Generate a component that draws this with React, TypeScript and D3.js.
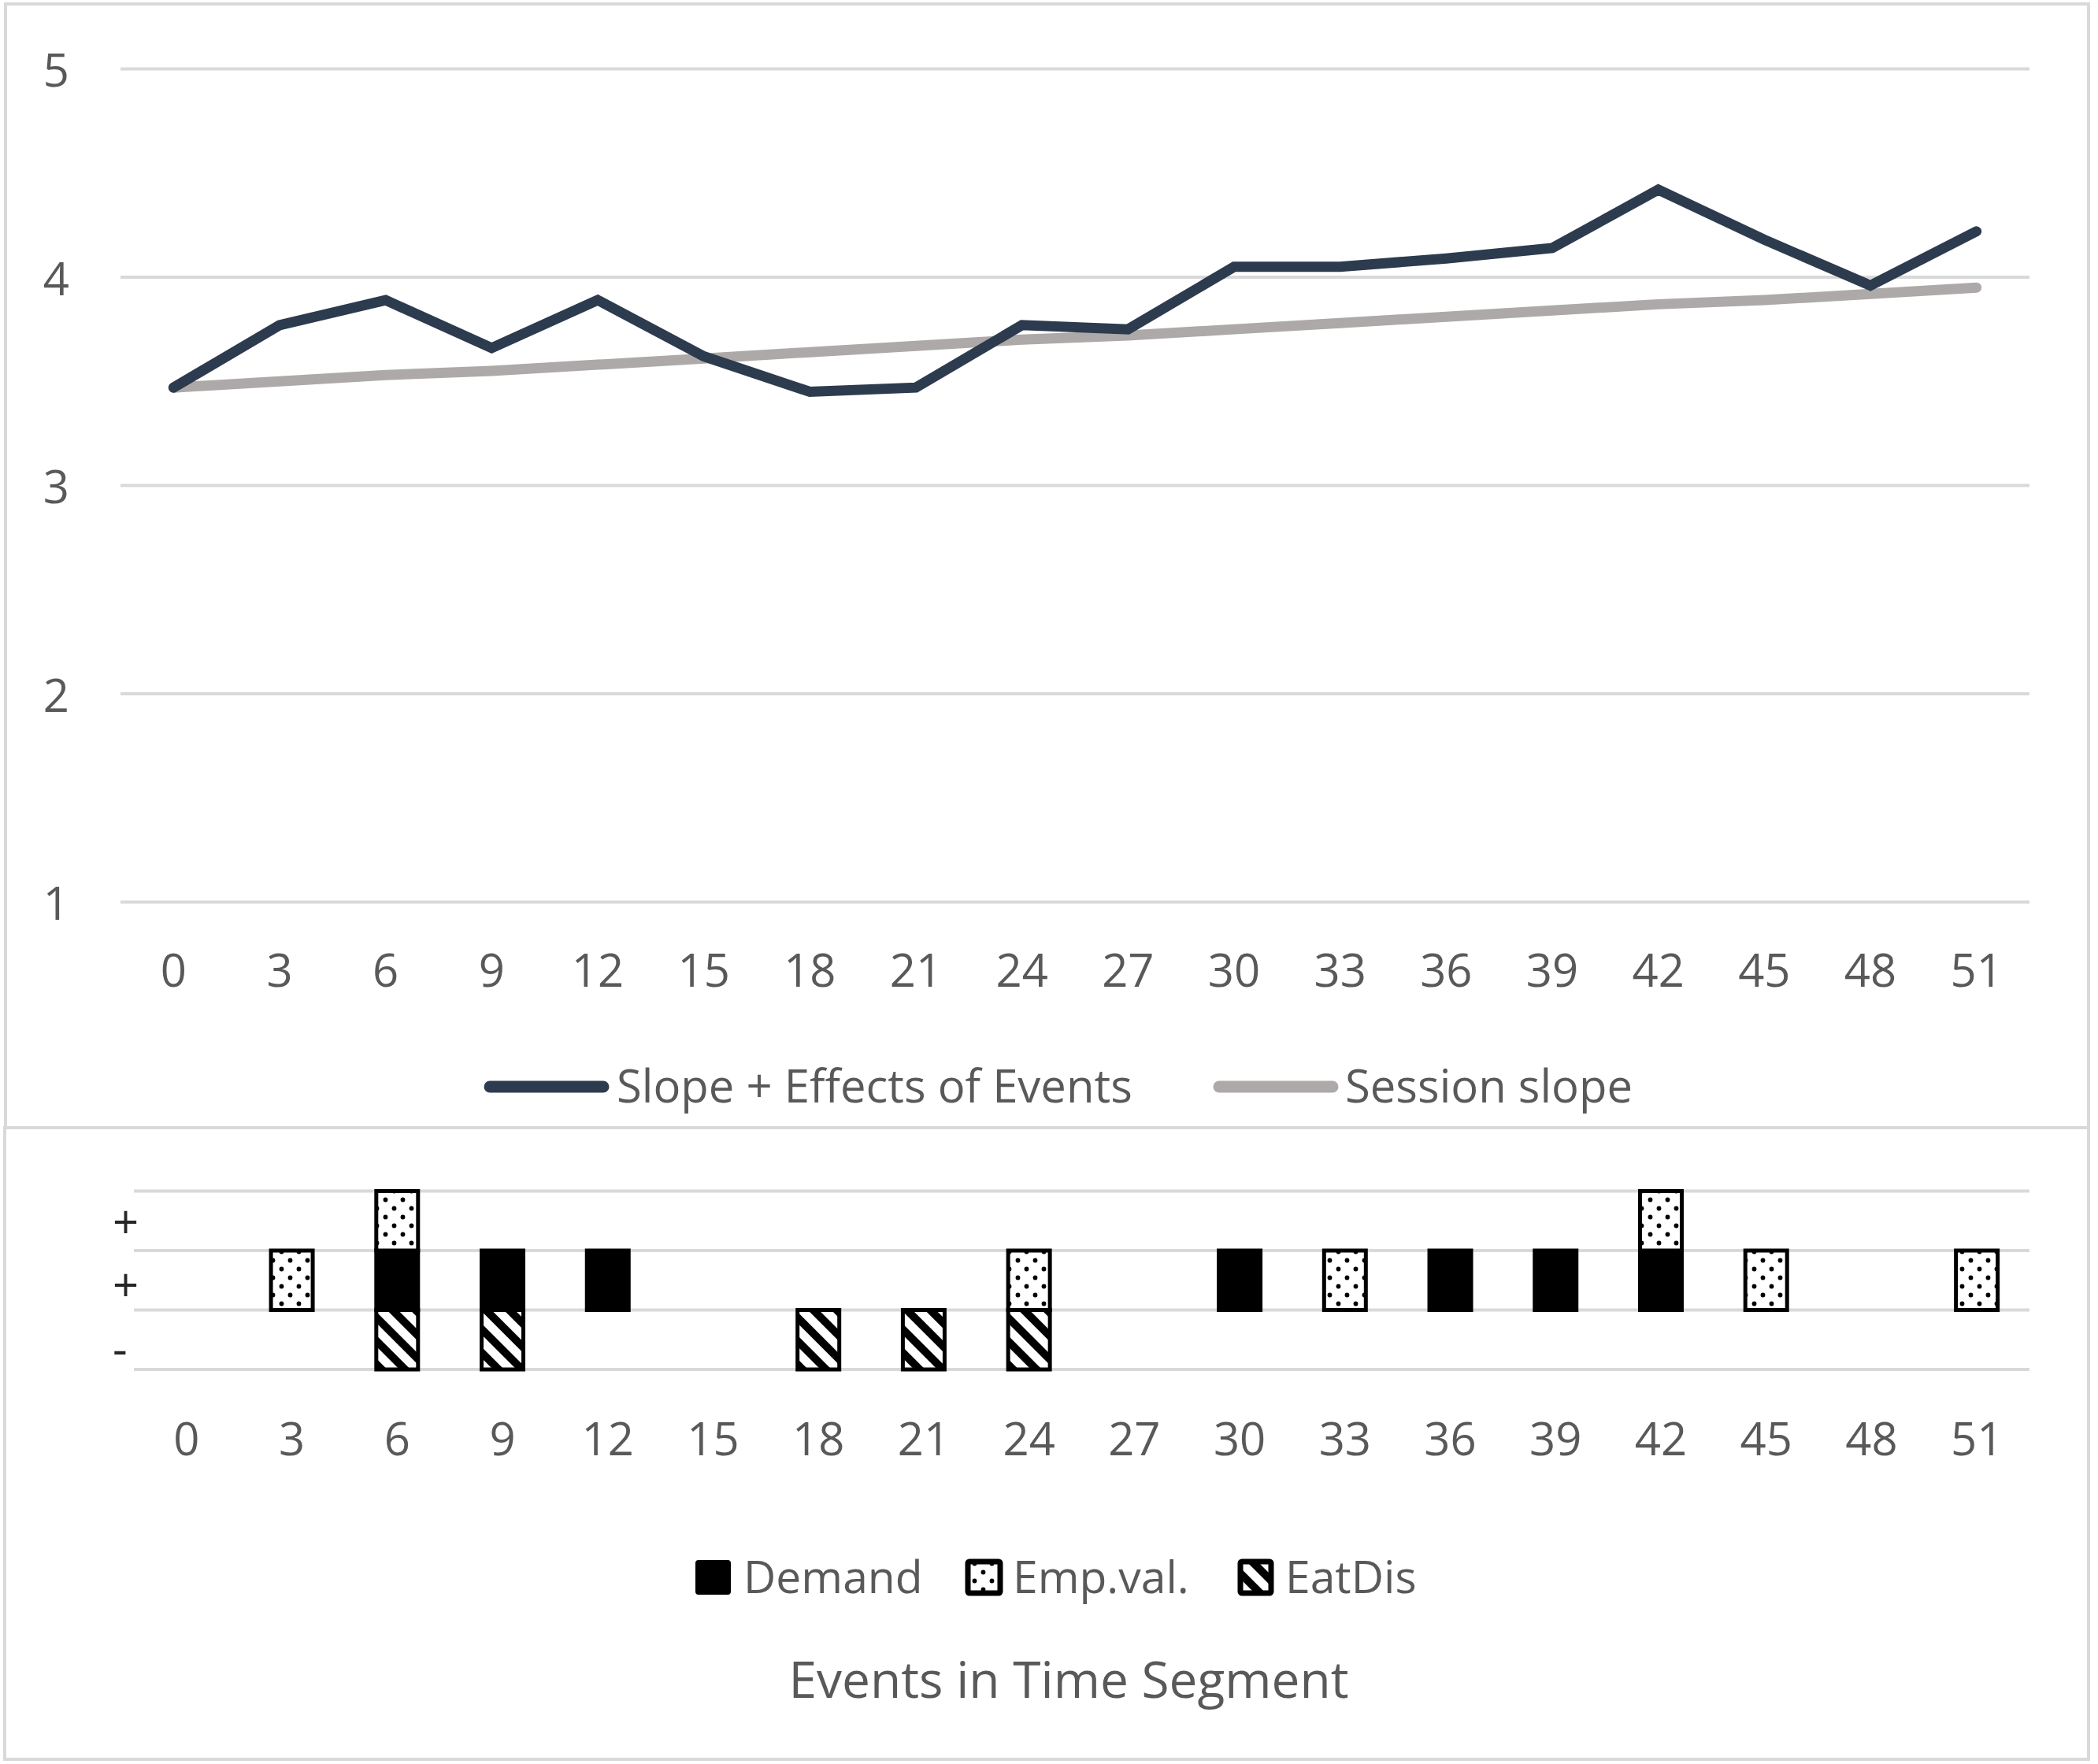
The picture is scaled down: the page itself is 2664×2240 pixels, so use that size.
import React from "react";
import * as d3 from "d3";

// ---------- data ----------
const segments = ["0", "3", "6", "9", "12", "15", "18", "21", "24", "27", "30", "33", "36", "39", "42", "45", "48", "51"];
const slopeEffects = [3.47, 3.77, 3.89, 3.66, 3.89, 3.62, 3.45, 3.47, 3.77, 3.75, 4.05, 4.05, 4.09, 4.14, 4.42, 4.18, 3.96, 4.22];
const sessionSlope = [3.47, 3.5, 3.53, 3.55, 3.58, 3.61, 3.64, 3.67, 3.7, 3.72, 3.75, 3.78, 3.81, 3.84, 3.87, 3.89, 3.92, 3.95];
const topYTicks = [1, 2, 3, 4, 5];

const demand = [0, 0, 1, 1, 1, 0, 0, 0, 0, 0, 1, 0, 1, 1, 1, 0, 0, 0];
const empVal = [0, 1, 1, 0, 0, 0, 0, 0, 1, 0, 0, 1, 0, 0, 1, 1, 0, 1];
const eatDis = [0, 0, -1, -1, 0, 0, -1, -1, -1, 0, 0, 0, 0, 0, 0, 0, 0, 0];
const bottomGrid = [-1, 0, 1, 2];
const bottomYLabels = ["+", "+", "-"];

const lineSeries = ["Slope + Effects of Events", "Session slope"];
const barSeries = ["Demand", "Emp.val.", "EatDis"];
const bottomTitle = "Events in Time Segment";

// ---------- style ----------
const FONT = "'Open Sans', 'Noto Sans', sans-serif";
const TXT = "#595959";
const GRID = "#d9d9d9";
const DARK = "#2D3B4F";
const GRAY = "#ADA9A8";

export default function App() {
  const W = 2664;
  const H = 2240;

  // top chart scales
  const xTop = d3.scaleBand<string>().domain(segments).range([153, 2577]).padding(0);
  const yTop = d3.scaleLinear().domain([1, 5]).range([1145.5, 87.5]);
  const cx = (i: number) => (xTop(segments[i]) as number) + xTop.bandwidth() / 2;
  const lineGen = d3
    .line<number>()
    .x((_, i) => cx(i))
    .y((v) => yTop(v));

  // bottom chart scales
  const xBot = d3.scaleBand<string>().domain(segments).range([170, 2577]).padding(0);
  const yBot = d3.scaleLinear().domain([-1, 2]).range([1739, 1512.5]);
  const barW = 53;

  const rows = segments.map((s, i) => ({ seg: s, Demand: demand[i], EmpVal: empVal[i], EatDis: eatDis[i] }));
  const stack = d3
    .stack<any>()
    .keys(["Demand", "EmpVal", "EatDis"])
    .offset(d3.stackOffsetDiverging);
  const stacked = stack(rows);
  const fills: Record<string, string> = { Demand: "#000", EmpVal: "url(#dots)", EatDis: "url(#hatch)" };

  const legendTopY = 1377;
  const legendBotY = 2001;

  return (
    <svg
      width={W}
      height={H}
      viewBox={`0 0 ${W} ${H}`}
      style={{ position: "absolute", left: 0, top: 0, background: "#fff", fontFamily: FONT }}
    >
      <defs>
        <pattern id="dots" width={22} height={22} patternUnits="userSpaceOnUse">
          <rect width={22} height={22} fill="#fff" />
          <circle cx={5.5} cy={5.5} r={2.9} fill="#000" />
          <circle cx={16.5} cy={16.5} r={2.9} fill="#000" />
        </pattern>
        <pattern id="hatch" width={21} height={21} patternUnits="userSpaceOnUse" patternTransform="rotate(45)">
          <rect width={21} height={21} fill="#fff" />
          <rect width={21} height={10} fill="#000" />
        </pattern>
      </defs>
      <rect x={0} y={0} width={W} height={H} fill="#fff" />

      {/* panel borders */}
      <rect x={7} y={5} width={2645} height={1427} fill="none" stroke={GRID} strokeWidth={4} />
      <rect x={6} y={1432} width={2646} height={802} fill="none" stroke={GRID} strokeWidth={4} />

      {/* ---------- top chart ---------- */}
      {topYTicks.map((t) => (
        <g key={"yt" + t}>
          <line x1={153} x2={2577} y1={yTop(t)} y2={yTop(t)} stroke={GRID} strokeWidth={4} />
          <text x={88} y={yTop(t)} textAnchor="end" dominantBaseline="central" fontSize={58} fill={TXT}>
            {t}
          </text>
        </g>
      ))}
      {segments.map((s, i) => (
        <text key={"xt" + s} x={cx(i)} y={1230} textAnchor="middle" dominantBaseline="central" fontSize={58} fill={TXT}>
          {s}
        </text>
      ))}
      <path d={lineGen(sessionSlope) || ""} fill="none" stroke={GRAY} strokeWidth={13} strokeLinecap="round" strokeLinejoin="round" />
      <path d={lineGen(slopeEffects) || ""} fill="none" stroke={DARK} strokeWidth={13} strokeLinecap="round" strokeLinejoin="miter" />

      {/* top legend */}
      <line x1={622} x2={766} y1={legendTopY + 3} y2={legendTopY + 3} stroke={DARK} strokeWidth={15} strokeLinecap="round" />
      <text x={783} y={legendTopY} dominantBaseline="central" fontSize={58} fill={TXT}>
        {lineSeries[0]}
      </text>
      <line x1={1548} x2={1692} y1={legendTopY + 3} y2={legendTopY + 3} stroke={GRAY} strokeWidth={15} strokeLinecap="round" />
      <text x={1708} y={legendTopY} dominantBaseline="central" fontSize={58} fill={TXT}>
        {lineSeries[1]}
      </text>

      {/* ---------- bottom chart ---------- */}
      {bottomGrid.map((t) => (
        <line key={"bg" + t} x1={170} x2={2577} y1={yBot(t)} y2={yBot(t)} stroke={GRID} strokeWidth={4} />
      ))}
      {bottomYLabels.map((l, k) => (
        <text
          key={"byl" + k}
          x={143}
          y={yBot(1.5 - k) + k * 5}
          dominantBaseline="central"
          fontSize={58}
          fill="#262626"
        >
          {l}
        </text>
      ))}
      {stacked.map((layer) => (
        <g key={layer.key}>
          {layer.map((d, i) => {
            const y0 = yBot(d[0]);
            const y1 = yBot(d[1]);
            if (Math.abs(y1 - y0) < 0.5) return null;
            const x = (xBot(segments[i]) as number) + xBot.bandwidth() / 2 - barW / 2;
            return (
              <rect
                key={layer.key + i}
                x={x}
                y={Math.min(y0, y1)}
                width={barW}
                height={Math.abs(y1 - y0)}
                fill={fills[layer.key]}
                stroke="#000"
                strokeWidth={5}
              />
            );
          })}
        </g>
      ))}
      {segments.map((s) => (
        <text
          key={"bx" + s}
          x={(xBot(s) as number) + xBot.bandwidth() / 2}
          y={1825}
          textAnchor="middle"
          dominantBaseline="central"
          fontSize={58}
          fill={TXT}
        >
          {s}
        </text>
      ))}

      {/* bottom legend */}
      <rect x={885} y={legendBotY - 18} width={41} height={40} fill="#000" stroke="#000" strokeWidth={4} rx={2} />
      <text x={944} y={legendBotY} dominantBaseline="central" fontSize={57} fill={TXT}>
        {barSeries[0]}
      </text>
      <rect x={1229} y={legendBotY - 18} width={41} height={40} fill="url(#dots)" stroke="#000" strokeWidth={7} rx={2} />
      <text x={1286} y={legendBotY} dominantBaseline="central" fontSize={57} fill={TXT}>
        {barSeries[1]}
      </text>
      <rect x={1575} y={legendBotY - 18} width={39} height={40} fill="url(#hatch)" stroke="#000" strokeWidth={7} rx={2} />
      <text x={1632} y={legendBotY} dominantBaseline="central" fontSize={57} fill={TXT}>
        {barSeries[2]}
      </text>

      <text x={1357} y={2131} textAnchor="middle" dominantBaseline="central" fontSize={64} fill={TXT}>
        {bottomTitle}
      </text>
    </svg>
  );
}
